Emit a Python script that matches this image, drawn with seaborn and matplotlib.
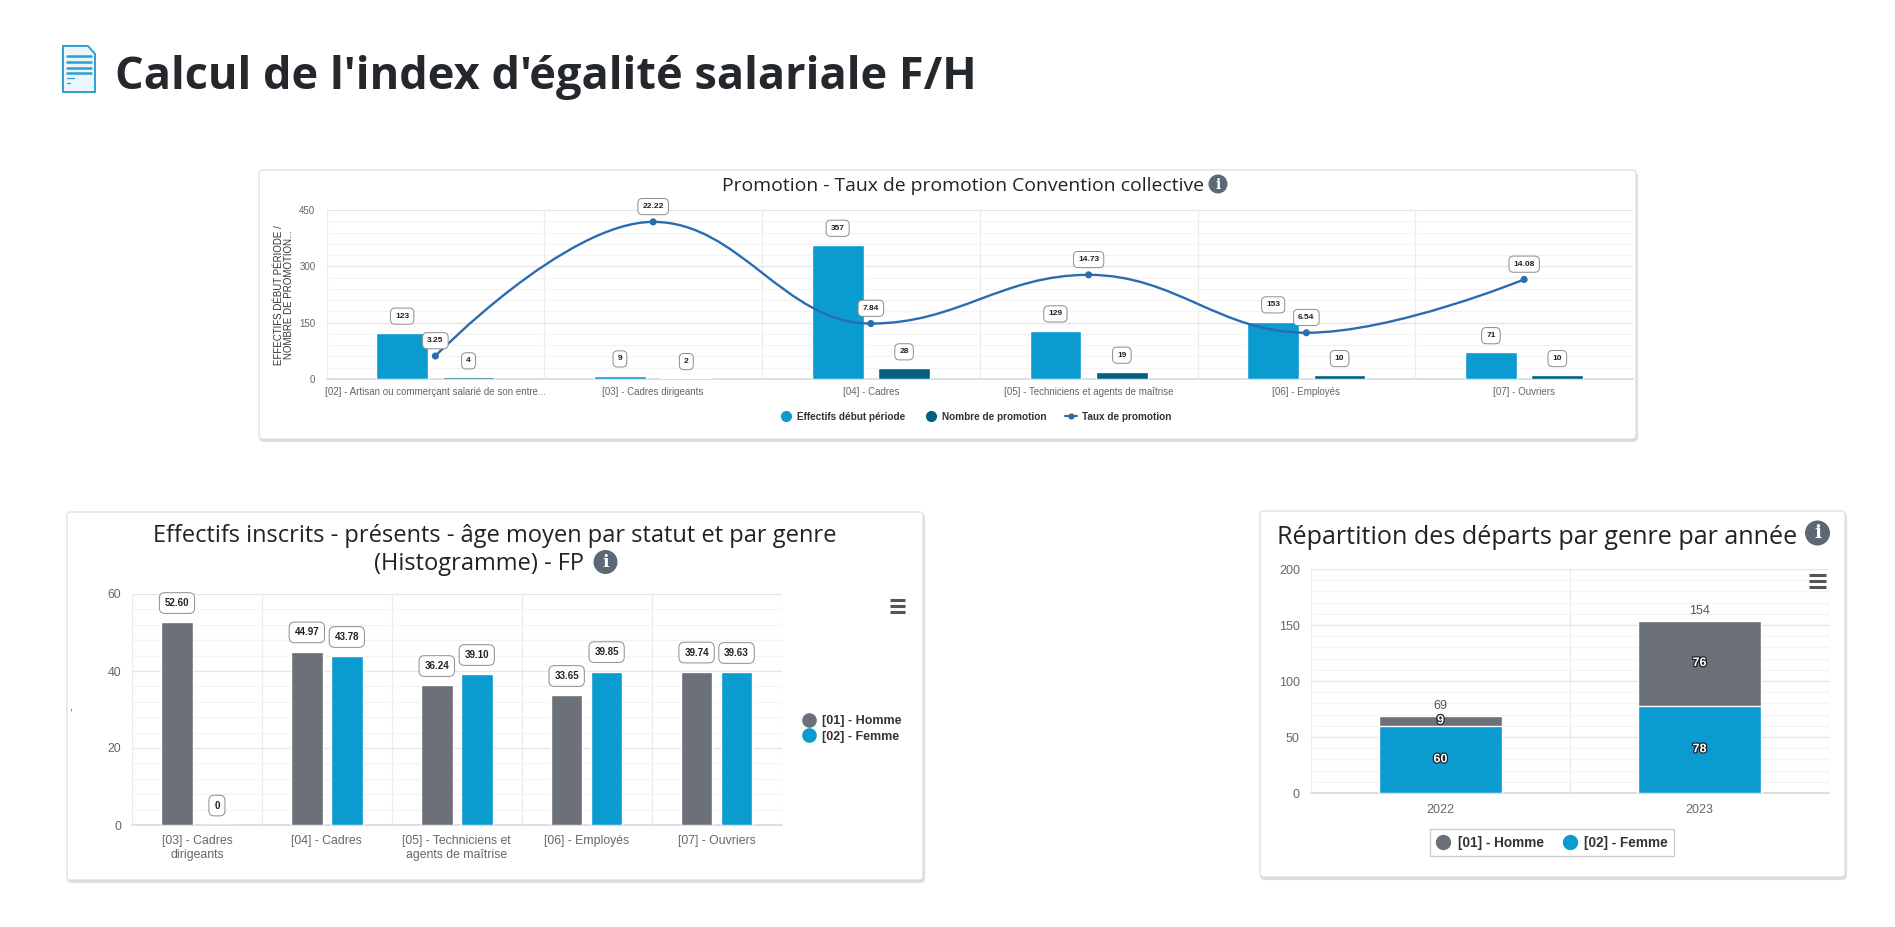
import numpy as np
import pandas as pd
import matplotlib
matplotlib.use("Agg")
import matplotlib.pyplot as plt
import matplotlib.patheffects as pe
import seaborn as sns
from matplotlib.lines import Line2D
from matplotlib.patches import Circle, FancyBboxPatch, PathPatch, Polygon
from matplotlib.path import Path
from matplotlib.ticker import FixedLocator, MultipleLocator

# --- donnees ---
promo_categories = ["[02] - Artisan ou commerçant salarié de son entre...", "[03] - Cadres dirigeants",
                    "[04] - Cadres", "[05] - Techniciens et agents de maîtrise", "[06] - Employés", "[07] - Ouvriers"]
promo_effectifs = [123, 9, 357, 129, 153, 71]
promo_nombre = [4, 2, 28, 19, 10, 10]
promo_taux = [3.25, 22.22, 7.84, 14.73, 6.54, 14.08]

age_categories = ["[03] - Cadres\ndirigeants", "[04] - Cadres", "[05] - Techniciens et\nagents de maîtrise",
                  "[06] - Employés", "[07] - Ouvriers"]
age_homme = [52.60, 44.97, 36.24, 33.65, 39.74]
age_femme = [0, 43.78, 39.10, 39.85, 39.63]

depart_annees = ["2022", "2023"]
depart_homme = [9, 76]
depart_femme = [60, 78]

BLUE = "#0a9bd0"
DARK = "#025f80"
GRAY = "#6c7078"
LINE = "#2a6cb0"
W, H = 1895, 927

sns.set_theme(style="white")
plt.rcParams["font.family"] = ["Liberation Sans", "DejaVu Sans"]

fig = plt.figure(figsize=(W / 100, H / 100), dpi=100, facecolor="white")


def rect(l, t, r, b):
    return [l / W, 1 - b / H, (r - l) / W, (b - t) / H]


def overlay(z):
    a = fig.add_axes([0, 0, 1, 1], zorder=z)
    a.set_xlim(0, W)
    a.set_ylim(H, 0)
    a.axis("off")
    return a


bg = overlay(0)
fg = overlay(10)


def card(l, t, r, b):
    bg.add_patch(FancyBboxPatch((l + 1, t + 2), r - l, b - t, boxstyle="round,pad=0,rounding_size=4",
                                fc="#c9c9c9", ec="#dedede", lw=1.5))
    bg.add_patch(FancyBboxPatch((l, t), r - l, b - t, boxstyle="round,pad=0,rounding_size=4",
                                fc="white", ec="#e2e2e2", lw=1))


def info_icon(x, y, r):
    fg.add_patch(Circle((x, y), r, fc="#5d6876", ec="none"))
    fg.text(x, y + 0.5, "i", color="white", fontsize=r * 1.05, fontweight="bold", family="DejaVu Serif",
            ha="center", va="center")


def burger(l, r, t, b):
    for y in np.linspace(t, b, 3):
        fg.plot([l, r], [y, y], color="#555555", lw=2.2, solid_capstyle="butt")


def style_axes(ax, n, ymax, major, tick_fs):
    ax.set_xlim(-0.5, n - 0.5)
    ax.set_ylim(0, ymax)
    ax.set_xlabel("")
    ax.set_ylabel("")
    ax.set_facecolor("none")
    ax.set_yticks(np.arange(0, ymax + 1, major))
    ax.yaxis.set_minor_locator(MultipleLocator(major / 5))
    ax.xaxis.set_minor_locator(FixedLocator(np.arange(n + 1) - 0.5))
    ax.grid(which="major", axis="y", color="#e6e6e6", lw=1)
    ax.grid(which="minor", axis="y", color="#f3f3f3", lw=0.9)
    ax.grid(which="minor", axis="x", color="#ebebeb", lw=0.9)
    ax.grid(which="major", axis="x", visible=False)
    ax.set_axisbelow(True)
    ax.tick_params(which="both", length=0)
    ax.tick_params(axis="both", labelsize=tick_fs, labelcolor="#666666")
    sns.despine(ax=ax, left=True, top=True, right=True)
    ax.spines["bottom"].set_color("#d5dae2")
    ax.spines["bottom"].set_zorder(0.5)


def callout(target, text, x, y, trans, dy, fs, pad=0.55):
    target.annotate(text, xy=(x, y), xycoords=trans, xytext=(0, dy), textcoords="offset points",
                    ha="center", va="center", fontsize=fs, fontweight="bold", color="#222222",
                    annotation_clip=False, zorder=20,
                    bbox=dict(boxstyle=f"round,pad={pad}", fc="white", ec="#8c8c8c", lw=0.7))


def spline_path(xs, ys):
    # meme logique que les courbes "spline" de Highcharts
    smooth, denom = 1.5, 2.5
    verts = [(xs[0], ys[0])]
    codes = [Path.MOVETO]
    right_prev = (xs[0], ys[0])
    n = len(xs)
    for i in range(1, n):
        x, y = xs[i], ys[i]
        if i < n - 1:
            lx = (smooth * x + xs[i - 1]) / denom
            ly = (smooth * y + ys[i - 1]) / denom
            rx = (smooth * x + xs[i + 1]) / denom
            ry = (smooth * y + ys[i + 1]) / denom
            corr = (ry - ly) * (rx - x) / (rx - lx) + y - ry
            ly += corr
            ry += corr
            if ly > max(ys[i - 1], y):
                ly = max(ys[i - 1], y)
                ry = 2 * y - ly
            elif ly < min(ys[i - 1], y):
                ly = min(ys[i - 1], y)
                ry = 2 * y - ly
            if ry > max(ys[i + 1], y):
                ry = max(ys[i + 1], y)
                ly = 2 * y - ry
            elif ry < min(ys[i + 1], y):
                ry = min(ys[i + 1], y)
                ly = 2 * y - ry
        else:
            lx, ly, rx, ry = x, y, x, y
        verts += [right_prev, (lx, ly), (x, y)]
        codes += [Path.CURVE4] * 3
        right_prev = (rx, ry)
    return Path(verts, codes)


def dot_legend(handles, labels, **kw):
    return fig.legend(handles, labels, prop=dict(weight="bold", size=kw.pop("size")), labelcolor="#333333", **kw)


def dot(color, ms):
    return Line2D([], [], ls="none", marker="o", ms=ms, color=color)


# --- titre de la page ---
fg.add_patch(Polygon([(63, 46), (88, 46), (95, 54), (95, 92), (63, 92)], closed=True, fc="#eaf6fb", ec="#2f9fd0", lw=1.4))
for y0, x1 in zip([56, 62, 68, 73, 78, 83], [91, 91, 91, 91, 74, 70]):
    fg.plot([67, x1], [y0, y0], color="#2f9fd0", lw=1.8 if x1 > 80 else 0.9)
fg.text(115, 77, "Calcul de l'index d'égalité salariale F/H", fontsize=32.5, fontweight="bold",
        family="Open Sans", color="#24282d", va="center", ha="left")

# --- graphique 1 : promotion ---
card(259, 170, 1636, 439)
fg.text(963, 185.5, "Promotion - Taux de promotion Convention collective", fontsize=13.95, family="Open Sans",
        color="#222222", ha="center", va="center")
info_icon(1218, 184, 9.5)

ax1 = fig.add_axes(rect(326.5, 210, 1633, 379), zorder=2)
df_promo = pd.DataFrame({"cat": promo_categories, "Effectifs début période": promo_effectifs,
                         "Nombre de promotion": promo_nombre}).melt("cat", var_name="serie", value_name="v")
sns.barplot(data=df_promo, x="cat", y="v", hue="serie", palette=[BLUE, DARK], width=0.61, gap=0.22,
            saturation=1, legend=False, ax=ax1)
style_axes(ax1, len(promo_categories), 450, 150, 7)

ax1b = ax1.twinx()
ax1b.set_ylim(0, 23.9)
ax1b.axis("off")
ax1b.set_zorder(3)
xpos = np.arange(len(promo_taux))
ax1b.add_patch(PathPatch(spline_path(list(xpos), promo_taux), fc="none", ec=LINE, lw=1.7))
sns.scatterplot(x=xpos, y=promo_taux, color=LINE, s=26, edgecolor="none", ax=ax1b, zorder=4, clip_on=False, legend=False)
ax1b.set_xlim(-0.5, 5.5)
ax1b.set_ylim(0, 23.9)
for cont in ax1.containers:
    for bar in cont:
        callout(ax1b, f"{bar.get_height():.0f}", bar.get_x() + bar.get_width() / 2, bar.get_height(),
                ax1.transData, 12, 6)
for x, t in zip(xpos, promo_taux):
    callout(ax1b, f"{t:.2f}", x, t, ax1b.transData, 11, 6)

fig.text(284 / W, 1 - 295 / H, "EFFECTIFS DÉBUT PÉRIODE /\nNOMBRE DE PROMOTION...", rotation=90, fontsize=7,
         color="#333333", ha="center", va="center", linespacing=1.05, zorder=5, multialignment="center")

dot_legend([dot(BLUE, 7), dot(DARK, 7), Line2D([], [], color=LINE, lw=1.5, marker="o", ms=3.5)],
           ["Effectifs début période", "Nombre de promotion", "Taux de promotion"], size=7.2,
           loc="center", bbox_to_anchor=(976 / W, 1 - 416.5 / H), ncols=3, frameon=False,
           handlelength=1.2, handletextpad=0.5, columnspacing=1.9)

# --- graphique 2 : age moyen ---
card(67, 512, 923, 880)
fg.text(495, 535.5, "Effectifs inscrits - présents - âge moyen par statut et par genre",
        fontsize=17, family="Open Sans", color="#222222", ha="center", va="center")
fg.text(479, 563.5, "(Histogramme) - FP", fontsize=17, family="Open Sans", color="#222222", ha="center", va="center")
info_icon(605.5, 562, 12)
burger(890, 905, 600, 612)

ax2 = fig.add_axes(rect(132, 594, 781.5, 825), zorder=2)
df_age = pd.DataFrame({"cat": age_categories, "[01] - Homme": age_homme,
                       "[02] - Femme": age_femme}).melt("cat", var_name="genre", value_name="v")
sns.barplot(data=df_age, x="cat", y="v", hue="genre", palette=[GRAY, BLUE], width=0.615, gap=0.21,
            saturation=1, legend=False, ax=ax2)
style_axes(ax2, len(age_categories), 60, 20, 8.8)
ax2.set_ylabel("-", fontsize=8, color="#666666", labelpad=22)
for cont in ax2.containers:
    for bar in cont:
        h = bar.get_height()
        callout(ax2, "0" if h == 0 else f"{h:.2f}", bar.get_x() + bar.get_width() / 2, h, ax2.transData, 14, 7)

dot_legend([dot(GRAY, 9.5), dot(BLUE, 9.5)], ["[01] - Homme", "[02] - Femme"], size=9, loc="center left",
           bbox_to_anchor=(796 / W, 1 - 729 / H), frameon=False, handlelength=1.1, handletextpad=0.45,
           labelspacing=0.25, borderpad=0)

# --- graphique 3 : departs ---
card(1260, 511, 1845, 877)
fg.text(1537, 537.5, "Répartition des départs par genre par année", fontsize=18.1, family="Open Sans",
        color="#222222", ha="center", va="center")
info_icon(1817.5, 533, 12.5)
burger(1809, 1826, 575, 587)

ax3 = fig.add_axes(rect(1311, 569, 1829, 793), zorder=2)
depart_total = np.array(depart_homme) + np.array(depart_femme)
df_dep = pd.DataFrame({"annee": depart_annees, "total": depart_total, "femme": depart_femme})
sns.barplot(data=df_dep, x="annee", y="total", color=GRAY, width=0.476, saturation=1, ax=ax3)
sns.barplot(data=df_dep, x="annee", y="femme", color=BLUE, width=0.476, saturation=1, edgecolor="white", linewidth=1, ax=ax3)
style_axes(ax3, len(depart_annees), 200, 50, 9)
ax3.tick_params(axis="x", pad=8)
outline = [pe.withStroke(linewidth=1.8, foreground="#222222")]
for bar, tot, hom, fem in zip(ax3.containers[0], depart_total, depart_homme, depart_femme):
    cx = bar.get_x() + bar.get_width() / 2
    ax3.annotate(str(tot), (cx, tot), xytext=(0, 7), textcoords="offset points", ha="center", va="center",
                 fontsize=9, color="#555555")
    ax3.text(cx, fem + hom / 2, str(hom), ha="center", va="center", fontsize=9, fontweight="bold", color="white",
             path_effects=outline, zorder=6)
    ax3.text(cx, fem / 2, str(fem), ha="center", va="center", fontsize=9, fontweight="bold", color="white",
             path_effects=outline, zorder=6)

dot_legend([dot(GRAY, 10), dot(BLUE, 10)], ["[01] - Homme", "[02] - Femme"], size=9.8, loc="center",
           bbox_to_anchor=(1552 / W, 1 - 842.5 / H), ncols=2, frameon=True, fancybox=False, edgecolor="#cccccc",
           framealpha=1, handlelength=1.1, handletextpad=0.5, columnspacing=1.4, borderpad=0.45)

# petits reglages des ticks
ax1.tick_params(axis="x", pad=6)
ax2.tick_params(axis="x", pad=7)
for a in (ax1, ax2, ax3):
    a.tick_params(axis="y", pad=8)

fig.savefig("out.png", dpi=100)
